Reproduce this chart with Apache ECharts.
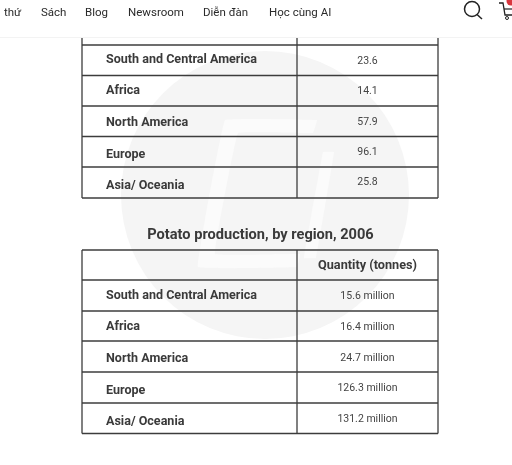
<!DOCTYPE html>
<html><head><meta charset="utf-8">
<style>html,body{margin:0;padding:0;background:#fff}#c{width:512px;height:465px}</style>
<script src="https://cdn.jsdelivr.net/npm/echarts@6/dist/echarts.min.js"></script>
</head><body><div id="c"></div>
<script>
const navItems = ['thứ','Sách','Blog','Newsroom','Diễn đàn','Học cùng AI'];
const regions = ['South and Central America','Africa','North America','Europe','Asia/ Oceania'];
const table1Values = ['23.6','14.1','57.9','96.1','25.8'];
const table2Values = ['15.6 million','16.4 million','24.7 million','126.3 million','131.2 million'];
const table2Title = 'Potato production, by region, 2006';
const table2Header = 'Quantity (tonnes)';

const navX = [4,41,85,128,203,269];
const t1Y = [45,75.5,106,136.5,167,198];
const t2Y = [250,280,311,341,372,403,433.5];
const t1LabelY = [59,90,122,154,185], t1ValueY = [60,90,121,151,181];
const t2LabelY = [295,326,358,390,421], t2ValueY = [295,326,357,387,418];
const X0=82, X1=297, X2=438, LINE='#3c3c3c', DY=1;
const g=[];
const line=(x1,y1,x2,y2,s=LINE,w=1.3)=>g.push({type:'line',shape:{x1,y1,x2,y2},style:{stroke:s,lineWidth:w},z:5});
const text=(x,y,t,o)=>g.push({type:'text',x,y:y+DY,style:Object.assign({text:t,fontFamily:'Roboto',verticalAlign:'middle'},o),z:6});

// watermark
g.push({type:'circle',shape:{cx:265,cy:195,r:144},style:{fill:'#f5f5f5'},z:1});
g.push({type:'polygon',shape:{points:[[225,120],[317,120],[313,133],[238,133],[215,254],[300,254],[297,267],[198,267]],smooth:0.04},style:{fill:'#fbfbfb'},z:2});
g.push({type:'polygon',shape:{points:[[323,152],[334,152],[316,258],[304,258]],smooth:0.04},style:{fill:'#fbfbfb'},z:2});

// table 1
t1Y.forEach(y=>line(X0,y,X2,y));
[X0,X1,X2].forEach(x=>line(x,38,x,198));
regions.forEach((r,i)=>{
  text(106,t1LabelY[i],r,{fontSize:12.55,fontWeight:'bold',fill:'#3a3a3a'});
  text(367.5,t1ValueY[i],table1Values[i],{fontSize:10.5,fill:'#444',align:'center'});
});
text(260.5,234,table2Title,{fontSize:14.6,fontWeight:'bold',fill:'#3a3a3a',align:'center'});
// table 2
t2Y.forEach(y=>line(X0,y,X2,y));
[X0,X1,X2].forEach(x=>line(x,250,x,433.5));
text(367.5,265,table2Header,{fontSize:12.7,fontWeight:'bold',fill:'#3a3a3a',align:'center'});
regions.forEach((r,i)=>{
  text(106,t2LabelY[i],r,{fontSize:12.55,fontWeight:'bold',fill:'#3a3a3a'});
  text(367.5,t2ValueY[i],table2Values[i],{fontSize:10.5,fill:'#444',align:'center'});
});
// header
g.push({type:'rect',shape:{x:0,y:0,width:512,height:37},style:{fill:'#fff'},z:7});
line(0,37.5,512,37.5,'#f3f3f3',1);
navItems.forEach((t,i)=>g.push({type:'text',x:navX[i],y:13,style:{text:t,fontFamily:'Roboto',fontSize:11.5,fill:'#2a2a2a',verticalAlign:'middle'},z:8}));
// search icon
g.push({type:'circle',shape:{cx:472,cy:9,r:7.5},style:{fill:'none',stroke:'#222',lineWidth:1.5},z:8});
g.push({type:'line',shape:{x1:477,y1:14.5,x2:482,y2:19},style:{stroke:'#222',lineWidth:1.5},z:8});
// cart icon
g.push({type:'polyline',shape:{points:[[499,3],[503,3],[505,15],[512,15]]},style:{fill:'none',stroke:'#222',lineWidth:1.3},z:8});
g.push({type:'line',shape:{x1:504,y1:9,x2:512,y2:9},style:{stroke:'#222',lineWidth:1.2},z:8});
g.push({type:'circle',shape:{cx:507,cy:18,r:1.5},style:{fill:'none',stroke:'#222',lineWidth:1},z:8});
g.push({type:'circle',shape:{cx:511,cy:1,r:4.5},style:{fill:'#d9363e'},z:9});

const chart=echarts.init(document.getElementById('c'),null,{renderer:'canvas'});
chart.setOption({animation:false,backgroundColor:'#fff',graphic:{elements:g}});
</script></body></html>
